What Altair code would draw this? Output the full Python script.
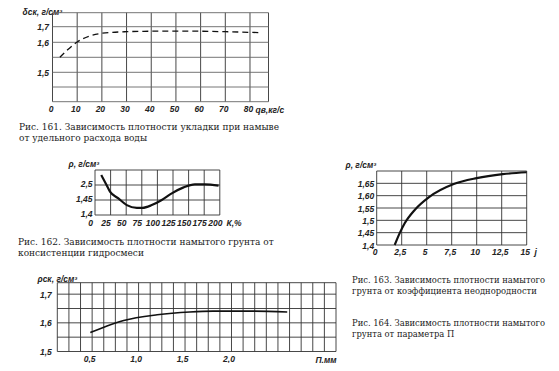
import altair as alt
import pandas as pd

# ---------------- data ----------------
# Рис. 161
q161 = [3, 6, 10, 15, 20, 30, 40, 50, 60, 70, 84]
d161 = [1.55, 1.574, 1.602, 1.64, 1.658, 1.668, 1.671, 1.672, 1.671, 1.668, 1.662]
x161_ticks = [0, 10, 20, 30, 40, 50, 60, 70, 80]
x161_labels = ["0", "10", "20", "30", "40", "50", "60", "70", "80"]
y161_ticks = [1.5, 1.6, 1.7]
y161_labels = ["1,5", "1,6", "1,7"]
x161_grid = [0, 10, 20, 30, 40, 50, 60, 70, 80, 87.5]
y161_grid = [1.4, 1.45, 1.5, 1.55, 1.6, 1.7, 1.79]

# Рис. 162
k162 = [10, 17, 24, 37, 51, 67, 76, 91, 107, 123, 142, 160, 176, 198]
r162 = [1.533, 1.506, 1.478, 1.456, 1.433, 1.424, 1.424, 1.433, 1.45, 1.472, 1.492, 1.502, 1.502, 1.498]
x162_ticks = [0, 25, 50, 75, 100, 125, 150, 175, 200]
x162_labels = ["0", "25", "50", "75", "100", "125", "150", "175", "200"]
y162_ticks = [1.4, 1.45, 1.5]
y162_labels = ["1,4", "1,45", "2,5"]
x162_grid = [0, 25, 50, 75, 100, 125, 150, 175, 200]
y162_grid = [1.4, 1.45, 1.5, 1.55]

# Рис. 163
j163 = [1.8, 2.3, 2.8, 3.8, 5.2, 7.7, 10.0, 12.6, 15.0]
r163 = [1.4, 1.448, 1.488, 1.542, 1.593, 1.647, 1.671, 1.687, 1.695]
x163_ticks = [0, 2.5, 5, 7.5, 10, 12.5, 15]
x163_labels = ["0", "2,5", "5", "7,5", "10", "12,5", "15"]
y163_ticks = [1.4, 1.45, 1.5, 1.55, 1.6, 1.65]
y163_labels = ["1,4", "1,45", "1,5", "1,55", "1,60", "1,65"]
x163_grid = [0, 2.5, 5, 7.5, 10, 12.5, 15]
y163_grid = [1.4, 1.45, 1.5, 1.55, 1.6, 1.65, 1.7]

# Рис. 164
p164 = [0.48, 0.66, 0.84, 1.2, 1.55, 1.8, 2.2, 2.6]
r164 = [1.566, 1.589, 1.608, 1.628, 1.638, 1.641, 1.641, 1.638]
x164_ticks = [0.5, 1.0, 1.5, 2.0]
x164_labels = ["0,5", "1,0", "1,5", "2,0"]
y164_ticks = [1.5, 1.6, 1.7]
y164_labels = ["1,5", "1,6", "1,7"]
x164_grid = [0.125, 0.25, 0.375, 0.5, 0.625, 0.75, 0.875, 1.0, 1.125, 1.25, 1.375, 1.5,
             1.625, 1.75, 1.875, 2.0, 2.125, 2.25, 2.375, 2.5, 2.625, 2.75, 2.875, 3.0, 3.125]
y164_grid = [1.5, 1.55, 1.6, 1.65, 1.7, 1.74]

captions = {
    "161": ["Рис. 161. Зависимость плотности укладки при намыве", "от удельного расхода воды"],
    "162": ["Рис. 162. Зависимость плотности намытого грунта от", "консистенции гидросмеси"],
    "163": ["Рис. 163. Зависимость плотности намытого", "грунта от коэффициента неоднородности"],
    "164": ["Рис. 164. Зависимость плотности намытого", "грунта от параметра П"],
}

# ---------------- style ----------------
W, H = 543, 355
INK = "#222222"
GRID = "#333333"
SANS = "Liberation Sans"
SERIF = "DejaVu Serif"


def label_expr(ticks, labels):
    vals = ",".join(repr(float(t)) for t in ticks)
    labs = ",".join("'" + s + "'" for s in labels)
    return f"[{labs}][indexof([{vals}], datum.value)]"


def common_axis():
    return dict(domain=False, ticks=False, tickSize=0, grid=False,
                labelFont=SANS, labelFontSize=8.5, labelFontStyle="italic", labelFontWeight="bold",
                labelColor=INK, labelOverlap=False, labelFlush=False, labelBound=False,
                titleFont=SANS, titleFontSize=8.5, titleFontStyle="italic", titleFontWeight="bold",
                titleColor=INK, titleAngle=0, titleAlign="left", titleBaseline="alphabetic", titlePadding=0)


def x_axis(ticks, labels, y_px, title, title_x, label_offset=0, label_padding=3):
    return alt.Axis(values=ticks, labelExpr=label_expr(ticks, labels), orient="bottom",
                    offset=y_px - H, labelPadding=label_padding, labelOffset=label_offset,
                    title=title, titleX=title_x, titleY=label_padding + 7.5, **common_axis())


def y_axis(ticks, labels, x_px, title, title_x, title_y, label_offset=0, label_padding=3):
    return alt.Axis(values=ticks, labelExpr=label_expr(ticks, labels), orient="left",
                    offset=-x_px, labelPadding=label_padding, labelOffset=label_offset,
                    title=title, titleX=title_x - x_px, titleY=title_y, **common_axis())


def panel(xs, ys, xdom, xrange, ydom, yrange, gx, gy, xax, yax, line_props,
          vcolor=GRID, hcolor=GRID):
    def xsc():
        return alt.Scale(domain=xdom, range=xrange, zero=False, nice=False)

    def ysc():
        return alt.Scale(domain=ydom, range=yrange, zero=False, nice=False)

    vgrid = alt.Chart(pd.DataFrame({"gx": gx})).mark_rule(color=vcolor, strokeWidth=0.9).encode(
        x=alt.X("gx:Q", scale=xsc(), axis=None),
        y=alt.YDatum(ydom[0], scale=ysc(), axis=None),
        y2=alt.Y2Datum(ydom[-1]),
    )
    hgrid = alt.Chart(pd.DataFrame({"gy": gy})).mark_rule(color=hcolor, strokeWidth=0.9).encode(
        y=alt.Y("gy:Q", scale=ysc(), axis=None),
        x=alt.XDatum(xdom[0], scale=xsc(), axis=None),
        x2=alt.X2Datum(xdom[-1]),
    )
    line = alt.Chart(pd.DataFrame({"x": xs, "y": ys})).mark_line(
        interpolate="monotone", color="#111111", **line_props).encode(
        x=alt.X("x:Q", scale=xsc(), axis=xax),
        y=alt.Y("y:Q", scale=ysc(), axis=yax),
    )
    return [vgrid, hgrid, line]


# panel 161 (piecewise y scale, as printed)
p161 = panel(
    q161, d161, [0, 87.5], [44.5, 260.5],
    [1.4, 1.5, 1.6, 1.7, 1.79], [93.7, 64.3, 34.3, 18.7, 4.7],
    x161_grid, y161_grid,
    x_axis(x161_ticks, x161_labels, 93.7, "qв,кг/с", 247, label_offset=-2),
    y_axis(y161_ticks, y161_labels, 44.5, "δск, г/см³", 14, 6, label_padding=4),
    dict(strokeWidth=1.3, strokeDash=[6, 4]),
    hcolor="#666666",
)

p162 = panel(
    k162, r162, [0, 200], [87, 211.8], [1.4, 1.55], [207, 162],
    x162_grid, y162_grid,
    x_axis(x162_ticks, x162_labels, 207, "К,%", 218, label_offset=-5),
    y_axis(y162_ticks, y162_labels, 87, "ρ, г/см³", 60, 158, label_offset=-2),
    dict(strokeWidth=2.2),
)

p163 = panel(
    j163, r163, [0, 15], [368.7, 518.7], [1.4, 1.7], [237, 163],
    x163_grid, y163_grid,
    x_axis(x163_ticks, x163_labels, 237, "j", 526, label_offset=-2, label_padding=2),
    y_axis(y163_ticks, y163_labels, 368.7, "ρ, г/см³", 337, 159),
    dict(strokeWidth=2.2),
)

p164 = panel(
    p164, r164, [0.125, 3.125], [49.3, 328], [1.5, 1.74], [343.5, 274.7],
    x164_grid, y164_grid,
    x_axis(x164_ticks, x164_labels, 343.5, "П,мм", 307, label_offset=-3),
    y_axis(y164_ticks, y164_labels, 49.3, "ρск, г/см³", 29, 273, label_padding=6),
    dict(strokeWidth=1.6),
)


def caption(lines, x, y, size):
    return alt.Chart(pd.DataFrame({"c": [0]})).mark_text(
        text=lines, align="left", baseline="alphabetic", font=SERIF, fontSize=size,
        lineHeight=10.5, color=INK).encode(x=alt.value(x), y=alt.value(y))


cap_pos = {"161": (11, 122, 9), "162": (10, 237, 9), "163": (344, 275, 8.4), "164": (344, 318, 8.4)}
caps = [caption(captions[k], *cap_pos[k]) for k in ["161", "162", "163", "164"]]

chart = alt.layer(*p161, *p162, *p163, *p164, *caps).resolve_scale(
    x="independent", y="independent"
).properties(
    width=W, height=H, padding=0, autosize=alt.AutoSizeParams(type="none"),
    background="white",
).configure_view(strokeWidth=0)

chart.save("out.html", embed_options={"renderer": "svg", "actions": False})
